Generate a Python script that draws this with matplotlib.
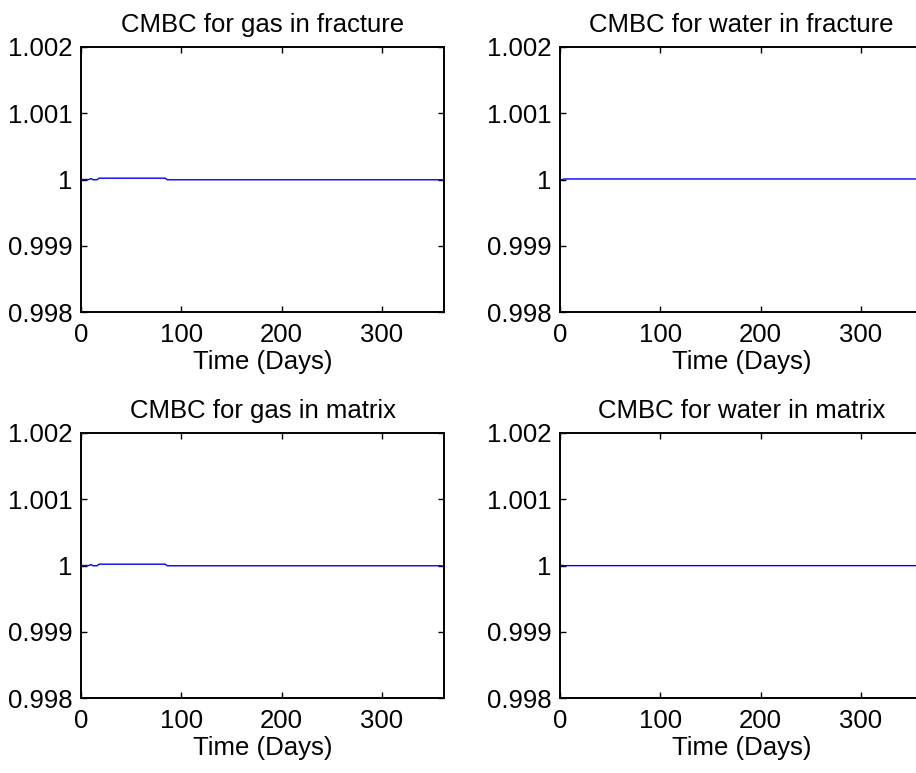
import numpy as np
import matplotlib
matplotlib.use('Agg')
import matplotlib.pyplot as plt
from matplotlib import ticker

plt.rcParams['font.family'] = ['Liberation Sans', 'DejaVu Sans']

# cumulative material balance check
t_gas = [0, 8, 10, 12, 16, 18, 84, 86, 360]
cmbc_gas_frac = [1.0, 1.0, 1.000015, 0.999996, 0.999996, 1.00002, 1.00002, 0.999996, 0.999996]
cmbc_gas_mat = [1.0, 1.0, 1.000015, 0.999996, 0.999996, 1.00002, 1.00002, 0.999996, 0.999996]

t_water = [0, 2, 4, 360]
cmbc_water_frac = [0.99999, 0.999998, 1.000008, 1.000008]
cmbc_water_mat = [0.999995, 1.000003, 0.999998, 0.999998]

titles = ['CMBC for gas in fracture', 'CMBC for water in fracture',
          'CMBC for gas in matrix', 'CMBC for water in matrix']
yticks = [0.998, 0.999, 1.0, 1.001, 1.002]
xticks = [0, 100, 200, 300]

series = [(t_gas, cmbc_gas_frac), (t_water, cmbc_water_frac),
          (t_gas, cmbc_gas_mat), (t_water, cmbc_water_mat)]

W, H = 916, 773
fig = plt.figure(figsize=(W / 100, H / 100), dpi=100)

# axes boxes in pixels: left, top
boxes = [(81, 47), (560, 47), (81, 433), (560, 433)]
aw, ah = 363, 265
fs = 18.5

for (x0, y0), (t, v), title in zip(boxes, series, titles):
    ax = fig.add_axes([x0 / W, (H - y0 - ah) / H, aw / W, ah / H])
    ax.plot(t, v, color='#0000ff', linewidth=1.0)
    ax.set_xlim(0, 362)
    ax.set_ylim(0.998, 1.002)
    ax.set_xticks(xticks)
    ax.set_yticks(yticks)
    ax.yaxis.set_major_formatter(ticker.FuncFormatter(lambda val, _: f'{val:g}'))
    ax.tick_params(direction='in', top=True, right=True, length=4, width=1,
                   labelsize=fs)
    ax.tick_params(axis='x', pad=8)
    ax.tick_params(axis='y', pad=6)
    for s in ax.spines.values():
        s.set_linewidth(1.4)
    ax.set_title(title, fontsize=fs, pad=11)
    ax.set_xlabel('Time (Days)', fontsize=fs, labelpad=2)

fig.savefig('out.png', dpi=100)
